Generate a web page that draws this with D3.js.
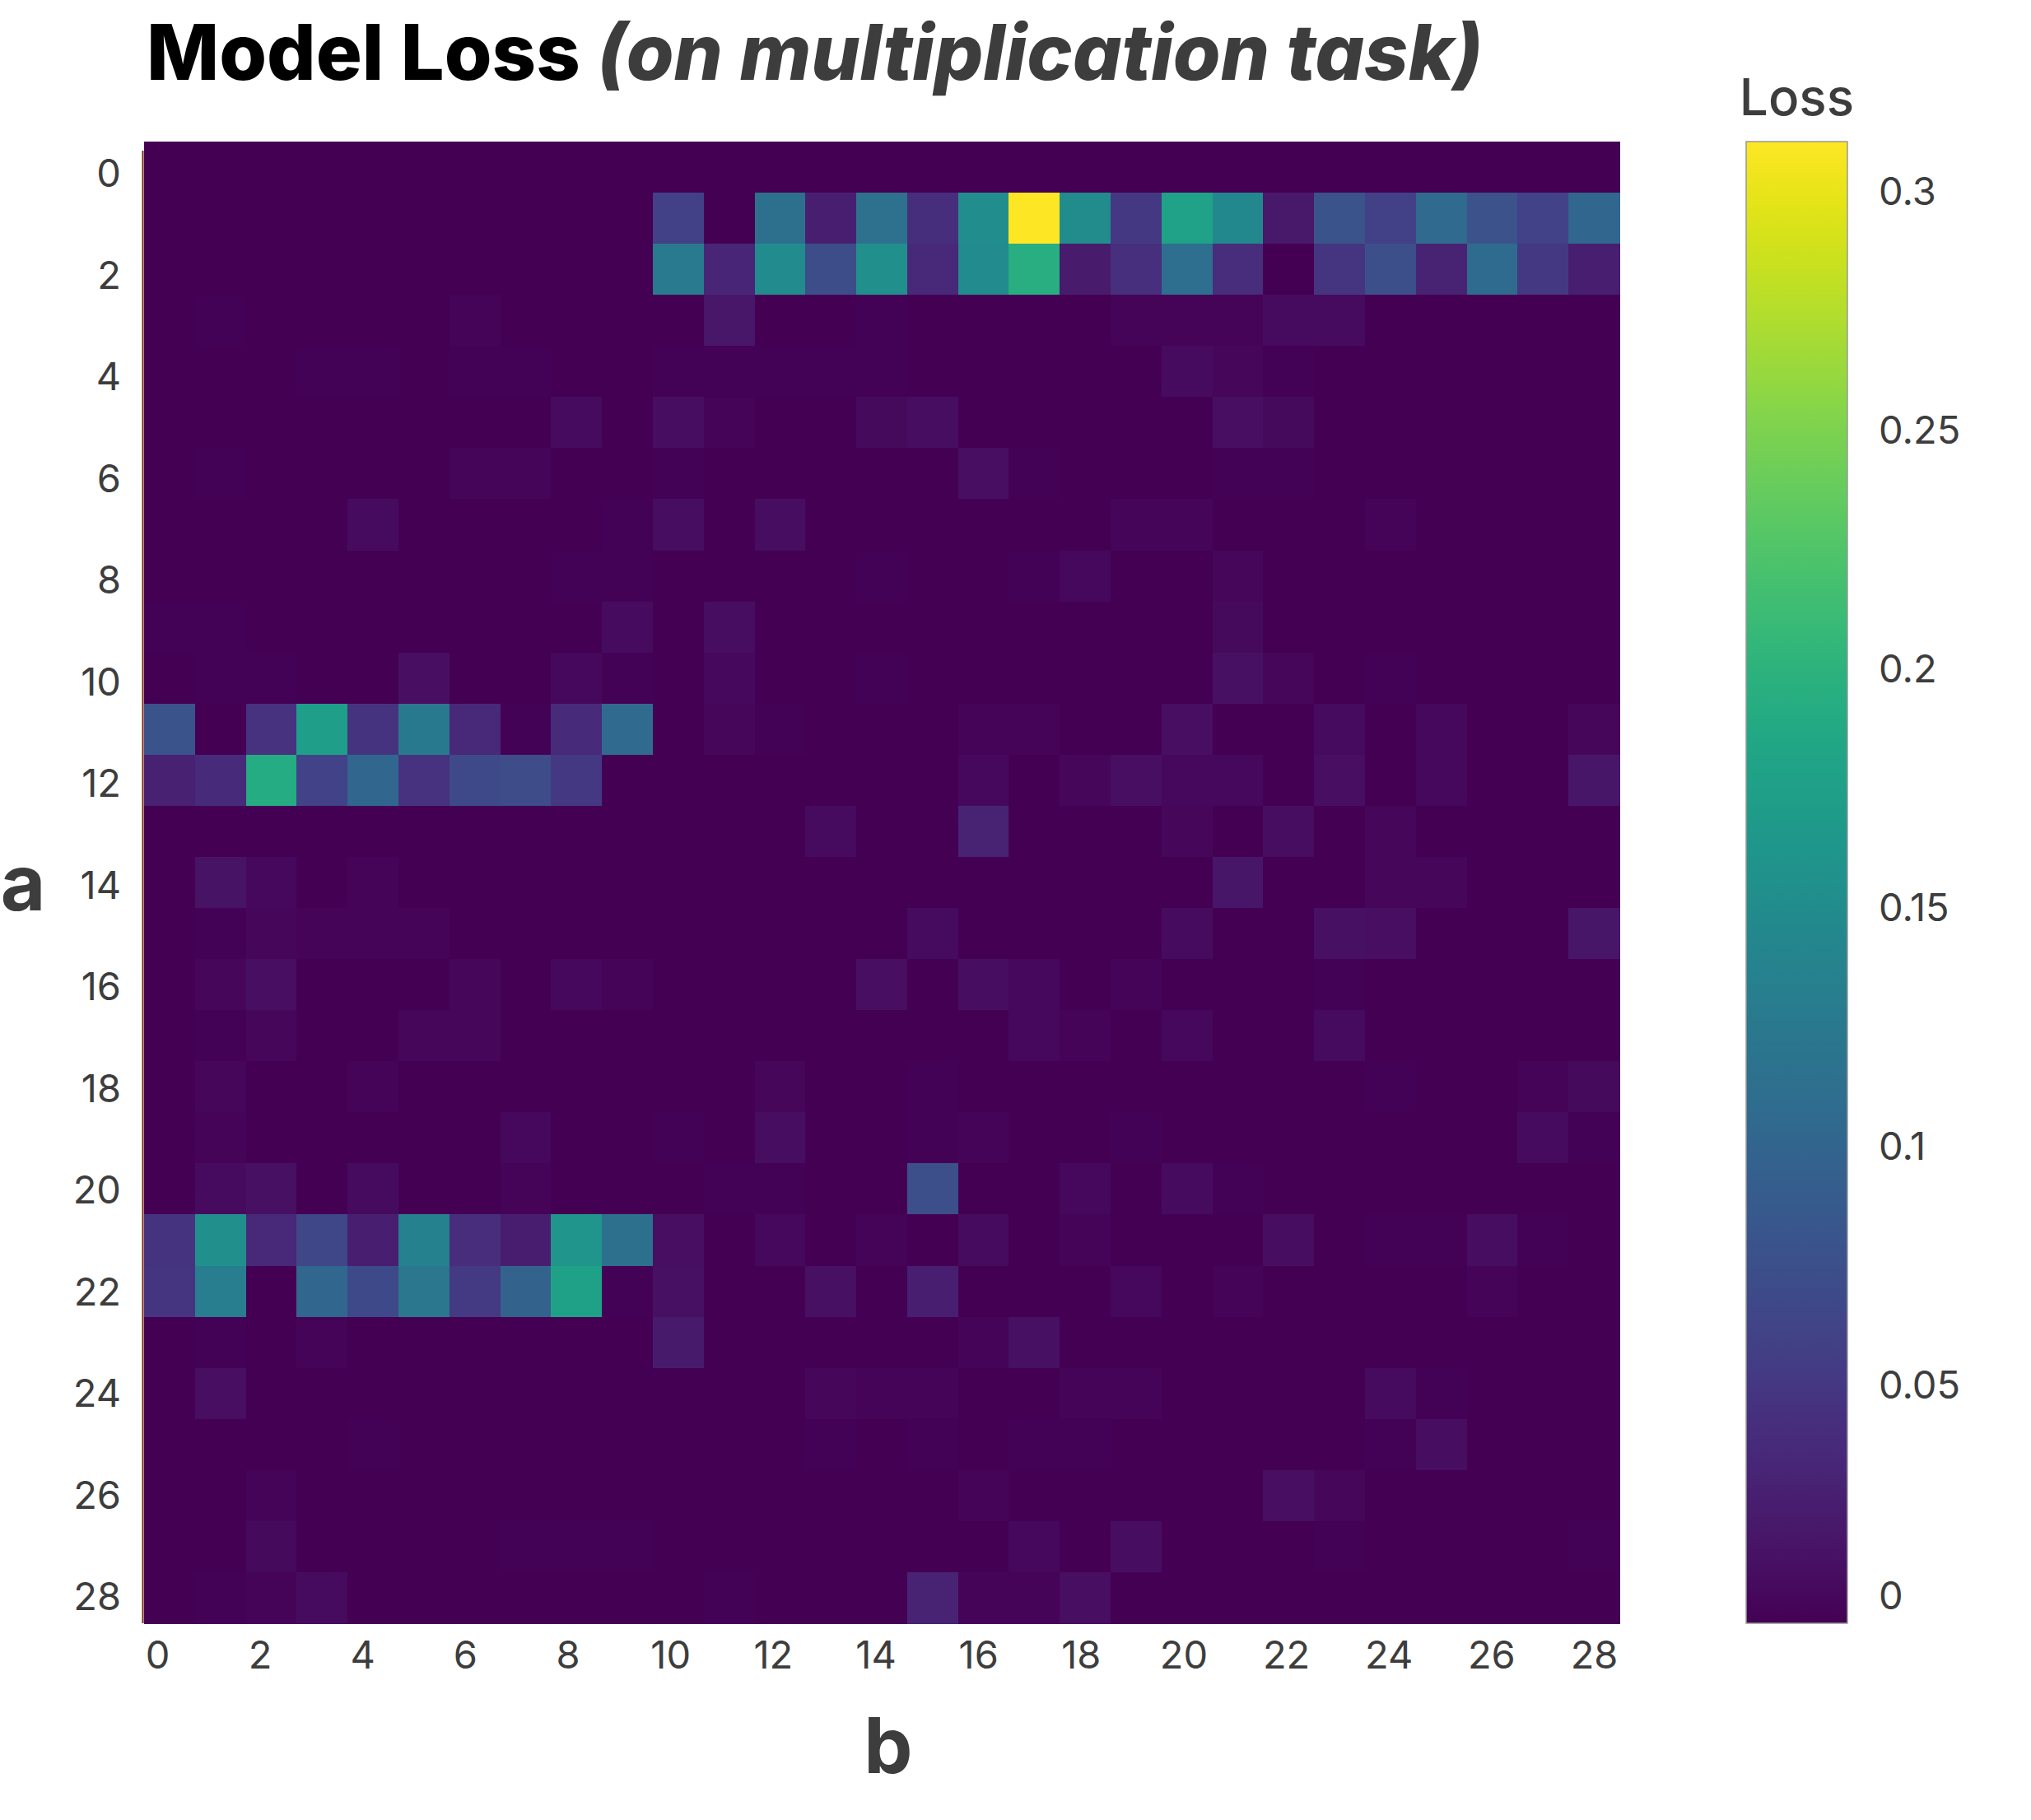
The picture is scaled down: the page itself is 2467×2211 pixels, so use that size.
<!DOCTYPE html>
<html>
<head>
<meta charset="utf-8">
<script src="https://cdn.jsdelivr.net/npm/d3@7"></script>
<style>
  html, body { margin: 0; padding: 0; background: #fff; }
  svg { display: block; font-family: Inter, "Noto Sans", sans-serif; }
</style>
</head>
<body>
<svg id="chart" width="2467" height="2211"></svg>
<script>
// ---------------- data ----------------
const aValues = d3.range(29);          // rows (a)
const bValues = d3.range(29);          // columns (b)
const tickLabels = [0, 2, 4, 6, 8, 10, 12, 14, 16, 18, 20, 22, 24, 26, 28];
const colorTicks = [0, 0.05, 0.1, 0.15, 0.2, 0.25, 0.3];

const lossRow0  = [0,0,0,0,0,0,0,0,0,0,0,0,0,0,0,0,0,0,0,0,0,0,0,0,0,0,0,0,0];
const lossRow1  = [0,0,0,0,0,0,0,0,0,0,0.059,0,0.113,0.026,0.115,0.040,0.152,0.3103,0.150,0.050,0.179,0.145,0.020,0.079,0.059,0.106,0.078,0.061,0.101];
const lossRow2  = [0,0,0,0,0,0,0,0,0,0,0.127,0.032,0.149,0.072,0.155,0.034,0.149,0.194,0.022,0.042,0.111,0.039,0,0.048,0.075,0.030,0.107,0.050,0.026];
const lossRow3  = [0,0.002,0,0,0,0,0.003,0,0,0,0,0.019,0,0.001,0.002,0.001,0.001,0.001,0.001,0.003,0.003,0.003,0.009,0.009,0.001,0.001,0.001,0.001,0.001];
const lossRow4  = [0,0,0,0.002,0.002,0,0.002,0.002,0,0,0.002,0.002,0.002,0.002,0.002,0.001,0,0,0,0,0.009,0.006,0.002,0.001,0,0,0,0,0.001];
const lossRow5  = [0,0,0,0,0,0,0,0,0.009,0.001,0.01,0.003,0.001,0,0.008,0.01,0,0.001,0,0,0,0.011,0.008,0.001,0,0,0,0,0];
const lossRow6  = [0,0.002,0,0,0,0,0.004,0.004,0.001,0,0.002,0,0.001,0.001,0,0.001,0.011,0.002,0,0,0,0.002,0.002,0,0.001,0.001,0,0,0];
const lossRow7  = [0.001,0,0,0,0.009,0,0,0,0,0.002,0.01,0.001,0.01,0,0,0,0,0,0,0.004,0.004,0.001,0.001,0,0.003,0,0,0.001,0];
const lossRow8  = [0,0,0,0,0,0,0,0,0.002,0.002,0,0,0,0,0.002,0,0,0.002,0.007,0,0,0.005,0.001,0,0,0,0,0,0];
const lossRow9  = [0.002,0.002,0,0,0,0,0,0,0,0.009,0,0.01,0.001,0,0,0,0,0,0,0,0.001,0.008,0.001,0,0,0,0,0,0];
const lossRow10 = [0,0.002,0.002,0,0,0.011,0,0,0.007,0.002,0,0.007,0,0,0.002,0,0,0,0,0,0,0.013,0.006,0,0.002,0,0.001,0,0];
const lossRow11 = [0.079,0,0.044,0.173,0.046,0.126,0.034,0.002,0.037,0.106,0.001,0.005,0.002,0,0.001,0,0.003,0.003,0,0,0.011,0,0,0.009,0,0.007,0,0,0.005];
const lossRow12 = [0.029,0.037,0.191,0.061,0.101,0.044,0.068,0.071,0.050,0.001,0,0,0,0,0,0,0.007,0,0.006,0.011,0.007,0.007,0,0.011,0,0.007,0.001,0.001,0.017];
const lossRow13 = [0,0,0,0,0,0,0,0,0,0,0,0,0.001,0.009,0,0,0.030,0,0,0,0.005,0.001,0.01,0,0.005,0.001,0,0,0];
const lossRow14 = [0,0.015,0.007,0,0.003,0.001,0,0,0,0,0,0,0.001,0,0,0,0,0,0,0,0,0.017,0,0,0.005,0.005,0,0,0];
const lossRow15 = [0,0.002,0.005,0.003,0.003,0.003,0,0,0,0,0,0,0.001,0,0,0.009,0,0,0,0.001,0.009,0,0,0.013,0.011,0.001,0,0,0.017];
const lossRow16 = [0,0.005,0.011,0,0,0.001,0.005,0.001,0.007,0.003,0.001,0,0,0,0.011,0,0.01,0.007,0,0.003,0,0.001,0.001,0.002,0.001,0.001,0.001,0.001,0.001];
const lossRow17 = [0,0.002,0.005,0.001,0,0.005,0.005,0,0,0,0,0,0,0,0,0,0.001,0.007,0.003,0,0.007,0.001,0,0.009,0.001,0,0,0,0];
const lossRow18 = [0,0.005,0,0.001,0.003,0,0,0,0,0,0,0.001,0.005,0,0.001,0.002,0,0,0,0,0,0.001,0,0,0.002,0.001,0,0.003,0.008];
const lossRow19 = [0,0.003,0,0,0,0,0.001,0.007,0,0,0.002,0,0.01,0,0,0.002,0.003,0,0,0.002,0,0,0,0,0.001,0.001,0.001,0.009,0.002];
const lossRow20 = [0,0.009,0.013,0,0.009,0.001,0,0.003,0,0,0,0.002,0.002,0,0,0.074,0,0,0.007,0.001,0.009,0.002,0,0,0,0,0,0,0];
const lossRow21 = [0.046,0.154,0.034,0.066,0.026,0.135,0.039,0.025,0.162,0.113,0.011,0.001,0.007,0,0.003,0.001,0.009,0,0.003,0.001,0,0,0.01,0,0.002,0.002,0.01,0.002,0];
const lossRow22 = [0.048,0.130,0,0.101,0.068,0.123,0.053,0.096,0.176,0.002,0.013,0.001,0.001,0.013,0.001,0.026,0,0,0.001,0.007,0.001,0.003,0.001,0,0.001,0.001,0.003,0,0];
const lossRow23 = [0,0.002,0.001,0.003,0,0,0.001,0,0,0,0.021,0.001,0.001,0,0,0.001,0.003,0.013,0,0,0,0,0,0,0,0,0,0,0];
const lossRow24 = [0,0.011,0,0,0,0,0,0,0,0,0,0,0,0.005,0.003,0.003,0,0.001,0.003,0.003,0,0,0,0,0.009,0.002,0.001,0,0];
const lossRow25 = [0,0.001,0.001,0.001,0.002,0.001,0.001,0,0,0,0,0.001,0.001,0.002,0.001,0.002,0,0.002,0.002,0,0,0,0,0,0.002,0.01,0,0,0];
const lossRow26 = [0,0,0.003,0.001,0,0.001,0,0,0,0,0,0,0,0,0,0,0.003,0,0.001,0,0,0,0.011,0.005,0.001,0,0,0,0];
const lossRow27 = [0,0,0.008,0,0,0,0,0.002,0.002,0.002,0,0,0,0,0,0,0,0.007,0,0.01,0,0,0,0.002,0,0,0,0,0.002];
const lossRow28 = [0,0.002,0.003,0.009,0.001,0,0,0,0,0,0,0.002,0,0,0,0.030,0.003,0.003,0.011,0,0,0,0,0,0,0,0,0,0.001];

const lossRows = [lossRow0, lossRow1, lossRow2, lossRow3, lossRow4, lossRow5, lossRow6, lossRow7,
  lossRow8, lossRow9, lossRow10, lossRow11, lossRow12, lossRow13, lossRow14, lossRow15, lossRow16,
  lossRow17, lossRow18, lossRow19, lossRow20, lossRow21, lossRow22, lossRow23, lossRow24, lossRow25,
  lossRow26, lossRow27, lossRow28];

// ---------------- layout ----------------
const svg = d3.select("#chart");
const plot = { left: 175, right: 1967, top: 172, bottom: 1972 };
const textColor = "#3d3d3d";

const allValues = lossRows.flat();
const colorDomain = [d3.min(allValues), d3.max(allValues)];

const x = d3.scaleBand().domain(bValues).range([plot.left, plot.right]).padding(0);
const y = d3.scaleBand().domain(aValues).range([plot.top, plot.bottom]).padding(0);
const xTick = d3.scaleLinear().domain([0, 28]).range([191, 1936]);
const yTick = d3.scaleLinear().domain([0, 28]).range([210, 1939]);
const color = d3.scaleSequential(d3.interpolateViridis).domain(colorDomain);

const cells = [];
lossRows.forEach((row, a) => row.forEach((v, b) => cells.push({ a, b, v })));

svg.append("g")
  .selectAll("rect")
  .data(cells)
  .join("rect")
  .attr("x", d => x(d.b))
  .attr("y", d => y(d.a))
  .attr("width", x.bandwidth() + 0.6)
  .attr("height", y.bandwidth() + 0.6)
  .attr("fill", d => color(d.v))
  .attr("shape-rendering", "crispEdges");

// thin left axis line
svg.append("line")
  .attr("x1", plot.left - 1.5).attr("x2", plot.left - 1.5)
  .attr("y1", plot.top + 11).attr("y2", plot.bottom)
  .attr("stroke", "#7a2418").attr("stroke-width", 2);

// ---------------- axes ----------------
const xAxis = svg.append("g")
  .attr("transform", `translate(0, ${2027})`)
  .call(d3.axisBottom(xTick).tickValues(tickLabels).tickSize(0).tickPadding(0).tickFormat(d3.format("d")));
xAxis.select(".domain").remove();
xAxis.selectAll("text")
  .attr("y", 0).attr("dy", 0)
  .attr("font-family", "Inter, sans-serif")
  .attr("font-size", 47).attr("fill", textColor);

const yAxis = svg.append("g")
  .attr("transform", `translate(${147}, 0)`)
  .call(d3.axisLeft(yTick).tickValues(tickLabels).tickSize(0).tickPadding(0).tickFormat(d3.format("d")));
yAxis.select(".domain").remove();
yAxis.selectAll("text")
  .attr("x", 0).attr("dy", "0.36em")
  .attr("font-family", "Inter, sans-serif")
  .attr("font-size", 47).attr("fill", textColor);

// axis titles
svg.append("text")
  .attr("x", 1079).attr("y", 2154)
  .attr("text-anchor", "middle")
  .attr("font-size", 94).attr("font-weight", 700).attr("fill", textColor)
  .text("b");
svg.append("text")
  .attr("x", 28).attr("y", 1106)
  .attr("text-anchor", "middle")
  .attr("font-size", 94).attr("font-weight", 700).attr("fill", textColor)
  .text("a");

// title
const title = svg.append("text").attr("x", 178).attr("y", 97).attr("font-size", 93.5);
title.append("tspan").attr("font-weight", 800).attr("fill", "#000").text("Model Loss ");
title.append("tspan").attr("font-weight", 800).attr("font-style", "italic").attr("fill", textColor)
  .text("(on multiplication task)");

// ---------------- colorbar ----------------
const cb = { left: 2121, right: 2244, top: 172, bottom: 1972 };
const defs = svg.append("defs");
const grad = defs.append("linearGradient").attr("id", "cbgrad")
  .attr("x1", 0).attr("y1", 1).attr("x2", 0).attr("y2", 0);
d3.range(0, 1.0001, 0.02).forEach(t => {
  grad.append("stop").attr("offset", t).attr("stop-color", d3.interpolateViridis(t));
});
svg.append("rect")
  .attr("x", cb.left).attr("y", cb.top)
  .attr("width", cb.right - cb.left).attr("height", cb.bottom - cb.top)
  .attr("fill", "url(#cbgrad)")
  .attr("stroke", "#999").attr("stroke-width", 1.5);

const cbScale = d3.scaleLinear().domain(colorDomain).range([cb.bottom, cb.top]);
const cbAxis = svg.append("g")
  .attr("transform", `translate(${2282}, 0)`)
  .call(d3.axisRight(cbScale).tickValues(colorTicks).tickSize(0).tickPadding(0).tickFormat(d => d3.format("~g")(d)));
cbAxis.select(".domain").remove();
// keep labels inside the bar's extent (like a gradient legend)
cbAxis.selectAll(".tick")
  .attr("transform", d => `translate(0, ${Math.min(cbScale(d), cb.bottom - 34)})`);
cbAxis.selectAll("text")
  .attr("x", 0).attr("dy", "0.36em")
  .attr("font-family", "Inter, sans-serif")
  .attr("font-size", 47).attr("fill", textColor);

svg.append("text")
  .attr("x", (cb.left + cb.right) / 2).attr("y", 140)
  .attr("text-anchor", "middle")
  .attr("font-size", 62).attr("font-weight", 500).attr("fill", textColor)
  .text("Loss");
</script>
</body>
</html>
